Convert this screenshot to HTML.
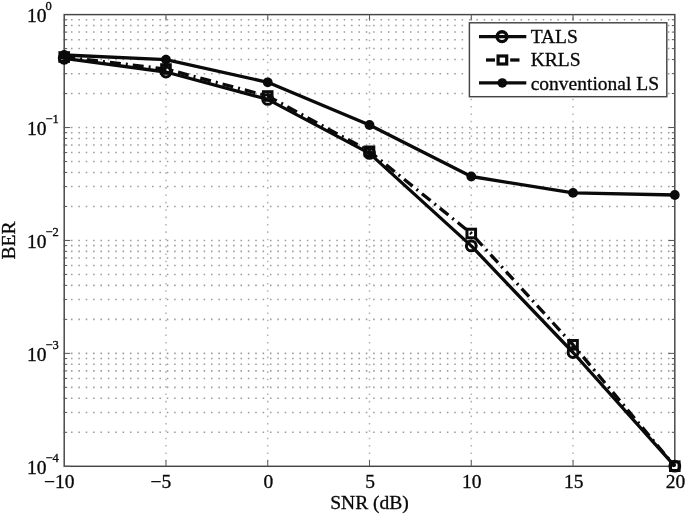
<!DOCTYPE html>
<html><head><meta charset="utf-8"><title>BER vs SNR</title>
<style>html,body{margin:0;padding:0;background:#fff}body{width:685px;height:514px;overflow:hidden}</style></head>
<body>
<svg width="685" height="514" viewBox="0 0 685 514" style="display:block;filter:blur(0.4px)">
<rect width="685" height="514" fill="#fff"/>
<g stroke="#9c9c9c" stroke-width="1.55" stroke-dasharray="1.55 5.82" fill="none"><line x1="63.60" y1="127.52" x2="674.8" y2="127.52"/><line x1="63.60" y1="93.53" x2="674.8" y2="93.53"/><line x1="63.60" y1="73.65" x2="674.8" y2="73.65"/><line x1="63.60" y1="59.54" x2="674.8" y2="59.54"/><line x1="63.60" y1="48.59" x2="674.8" y2="48.59"/><line x1="63.60" y1="39.65" x2="674.8" y2="39.65"/><line x1="63.60" y1="32.09" x2="674.8" y2="32.09"/><line x1="63.60" y1="25.54" x2="674.8" y2="25.54"/><line x1="63.60" y1="19.77" x2="674.8" y2="19.77"/><line x1="63.60" y1="240.45" x2="674.8" y2="240.45"/><line x1="63.60" y1="206.46" x2="674.8" y2="206.46"/><line x1="63.60" y1="186.57" x2="674.8" y2="186.57"/><line x1="63.60" y1="172.46" x2="674.8" y2="172.46"/><line x1="63.60" y1="161.52" x2="674.8" y2="161.52"/><line x1="63.60" y1="152.58" x2="674.8" y2="152.58"/><line x1="63.60" y1="145.02" x2="674.8" y2="145.02"/><line x1="63.60" y1="138.47" x2="674.8" y2="138.47"/><line x1="63.60" y1="132.69" x2="674.8" y2="132.69"/><line x1="63.60" y1="353.38" x2="674.8" y2="353.38"/><line x1="63.60" y1="319.38" x2="674.8" y2="319.38"/><line x1="63.60" y1="299.50" x2="674.8" y2="299.50"/><line x1="63.60" y1="285.39" x2="674.8" y2="285.39"/><line x1="63.60" y1="274.44" x2="674.8" y2="274.44"/><line x1="63.60" y1="265.50" x2="674.8" y2="265.50"/><line x1="63.60" y1="257.94" x2="674.8" y2="257.94"/><line x1="63.60" y1="251.39" x2="674.8" y2="251.39"/><line x1="63.60" y1="245.62" x2="674.8" y2="245.62"/><line x1="63.60" y1="432.31" x2="674.8" y2="432.31"/><line x1="63.60" y1="412.42" x2="674.8" y2="412.42"/><line x1="63.60" y1="398.31" x2="674.8" y2="398.31"/><line x1="63.60" y1="387.37" x2="674.8" y2="387.37"/><line x1="63.60" y1="378.43" x2="674.8" y2="378.43"/><line x1="63.60" y1="370.87" x2="674.8" y2="370.87"/><line x1="63.60" y1="364.32" x2="674.8" y2="364.32"/><line x1="63.60" y1="358.54" x2="674.8" y2="358.54"/></g>
<g stroke="#b4b4b4" stroke-width="1.55" stroke-dasharray="1.55 5.82" fill="none"><line x1="165.97" y1="17.6" x2="165.97" y2="466.3"/><line x1="267.73" y1="17.6" x2="267.73" y2="466.3"/><line x1="369.50" y1="17.6" x2="369.50" y2="466.3"/><line x1="471.27" y1="17.6" x2="471.27" y2="466.3"/><line x1="573.03" y1="17.6" x2="573.03" y2="466.3"/></g>
<rect x="64.2" y="14.6" width="610.60" height="451.70" fill="none" stroke="#444" stroke-width="1.45"/>
<g stroke="#5a5a5a" stroke-width="1.05"><line x1="165.97" y1="466.3" x2="165.97" y2="460.3"/><line x1="165.97" y1="14.6" x2="165.97" y2="20.6"/><line x1="267.73" y1="466.3" x2="267.73" y2="460.3"/><line x1="267.73" y1="14.6" x2="267.73" y2="20.6"/><line x1="369.50" y1="466.3" x2="369.50" y2="460.3"/><line x1="369.50" y1="14.6" x2="369.50" y2="20.6"/><line x1="471.27" y1="466.3" x2="471.27" y2="460.3"/><line x1="471.27" y1="14.6" x2="471.27" y2="20.6"/><line x1="573.03" y1="466.3" x2="573.03" y2="460.3"/><line x1="573.03" y1="14.6" x2="573.03" y2="20.6"/><line x1="64.2" y1="127.52" x2="70.2" y2="127.52"/><line x1="674.8" y1="127.52" x2="668.8" y2="127.52"/><line x1="64.2" y1="93.53" x2="67.2" y2="93.53"/><line x1="674.8" y1="93.53" x2="671.8" y2="93.53"/><line x1="64.2" y1="73.65" x2="67.2" y2="73.65"/><line x1="674.8" y1="73.65" x2="671.8" y2="73.65"/><line x1="64.2" y1="59.54" x2="67.2" y2="59.54"/><line x1="674.8" y1="59.54" x2="671.8" y2="59.54"/><line x1="64.2" y1="48.59" x2="67.2" y2="48.59"/><line x1="674.8" y1="48.59" x2="671.8" y2="48.59"/><line x1="64.2" y1="39.65" x2="67.2" y2="39.65"/><line x1="674.8" y1="39.65" x2="671.8" y2="39.65"/><line x1="64.2" y1="32.09" x2="67.2" y2="32.09"/><line x1="674.8" y1="32.09" x2="671.8" y2="32.09"/><line x1="64.2" y1="25.54" x2="67.2" y2="25.54"/><line x1="674.8" y1="25.54" x2="671.8" y2="25.54"/><line x1="64.2" y1="19.77" x2="67.2" y2="19.77"/><line x1="674.8" y1="19.77" x2="671.8" y2="19.77"/><line x1="64.2" y1="240.45" x2="70.2" y2="240.45"/><line x1="674.8" y1="240.45" x2="668.8" y2="240.45"/><line x1="64.2" y1="206.46" x2="67.2" y2="206.46"/><line x1="674.8" y1="206.46" x2="671.8" y2="206.46"/><line x1="64.2" y1="186.57" x2="67.2" y2="186.57"/><line x1="674.8" y1="186.57" x2="671.8" y2="186.57"/><line x1="64.2" y1="172.46" x2="67.2" y2="172.46"/><line x1="674.8" y1="172.46" x2="671.8" y2="172.46"/><line x1="64.2" y1="161.52" x2="67.2" y2="161.52"/><line x1="674.8" y1="161.52" x2="671.8" y2="161.52"/><line x1="64.2" y1="152.58" x2="67.2" y2="152.58"/><line x1="674.8" y1="152.58" x2="671.8" y2="152.58"/><line x1="64.2" y1="145.02" x2="67.2" y2="145.02"/><line x1="674.8" y1="145.02" x2="671.8" y2="145.02"/><line x1="64.2" y1="138.47" x2="67.2" y2="138.47"/><line x1="674.8" y1="138.47" x2="671.8" y2="138.47"/><line x1="64.2" y1="132.69" x2="67.2" y2="132.69"/><line x1="674.8" y1="132.69" x2="671.8" y2="132.69"/><line x1="64.2" y1="353.38" x2="70.2" y2="353.38"/><line x1="674.8" y1="353.38" x2="668.8" y2="353.38"/><line x1="64.2" y1="319.38" x2="67.2" y2="319.38"/><line x1="674.8" y1="319.38" x2="671.8" y2="319.38"/><line x1="64.2" y1="299.50" x2="67.2" y2="299.50"/><line x1="674.8" y1="299.50" x2="671.8" y2="299.50"/><line x1="64.2" y1="285.39" x2="67.2" y2="285.39"/><line x1="674.8" y1="285.39" x2="671.8" y2="285.39"/><line x1="64.2" y1="274.44" x2="67.2" y2="274.44"/><line x1="674.8" y1="274.44" x2="671.8" y2="274.44"/><line x1="64.2" y1="265.50" x2="67.2" y2="265.50"/><line x1="674.8" y1="265.50" x2="671.8" y2="265.50"/><line x1="64.2" y1="257.94" x2="67.2" y2="257.94"/><line x1="674.8" y1="257.94" x2="671.8" y2="257.94"/><line x1="64.2" y1="251.39" x2="67.2" y2="251.39"/><line x1="674.8" y1="251.39" x2="671.8" y2="251.39"/><line x1="64.2" y1="245.62" x2="67.2" y2="245.62"/><line x1="674.8" y1="245.62" x2="671.8" y2="245.62"/><line x1="64.2" y1="466.30" x2="70.2" y2="466.30"/><line x1="674.8" y1="466.30" x2="668.8" y2="466.30"/><line x1="64.2" y1="432.31" x2="67.2" y2="432.31"/><line x1="674.8" y1="432.31" x2="671.8" y2="432.31"/><line x1="64.2" y1="412.42" x2="67.2" y2="412.42"/><line x1="674.8" y1="412.42" x2="671.8" y2="412.42"/><line x1="64.2" y1="398.31" x2="67.2" y2="398.31"/><line x1="674.8" y1="398.31" x2="671.8" y2="398.31"/><line x1="64.2" y1="387.37" x2="67.2" y2="387.37"/><line x1="674.8" y1="387.37" x2="671.8" y2="387.37"/><line x1="64.2" y1="378.43" x2="67.2" y2="378.43"/><line x1="674.8" y1="378.43" x2="671.8" y2="378.43"/><line x1="64.2" y1="370.87" x2="67.2" y2="370.87"/><line x1="674.8" y1="370.87" x2="671.8" y2="370.87"/><line x1="64.2" y1="364.32" x2="67.2" y2="364.32"/><line x1="674.8" y1="364.32" x2="671.8" y2="364.32"/><line x1="64.2" y1="358.54" x2="67.2" y2="358.54"/><line x1="674.8" y1="358.54" x2="671.8" y2="358.54"/></g>
<polyline points="64.20,55.00 165.97,59.60 267.73,82.30 369.50,125.00 471.27,176.50 573.03,192.90 674.80,195.00" fill="none" stroke="#0a0a0a" stroke-width="3.3" stroke-linejoin="round"/>
<circle cx="64.20" cy="55.00" r="4.9" fill="#0a0a0a"/>
<circle cx="165.97" cy="59.60" r="4.9" fill="#0a0a0a"/>
<circle cx="267.73" cy="82.30" r="4.9" fill="#0a0a0a"/>
<circle cx="369.50" cy="125.00" r="4.9" fill="#0a0a0a"/>
<circle cx="471.27" cy="176.50" r="4.9" fill="#0a0a0a"/>
<circle cx="573.03" cy="192.90" r="4.9" fill="#0a0a0a"/>
<circle cx="674.80" cy="195.00" r="4.9" fill="#0a0a0a"/>
<polyline points="64.20,57.00 165.97,69.00 267.73,96.00 369.50,151.30 471.27,233.50 573.03,344.80 674.80,466.20" fill="none" stroke="#0a0a0a" stroke-width="3.3" stroke-dasharray="11 5 2 5"/>
<rect x="59.90" y="52.70" width="8.6" height="8.6" fill="none" stroke="#0a0a0a" stroke-width="3"/>
<rect x="161.67" y="64.70" width="8.6" height="8.6" fill="none" stroke="#0a0a0a" stroke-width="3"/>
<rect x="263.43" y="91.70" width="8.6" height="8.6" fill="none" stroke="#0a0a0a" stroke-width="3"/>
<rect x="365.20" y="147.00" width="8.6" height="8.6" fill="none" stroke="#0a0a0a" stroke-width="3"/>
<rect x="466.97" y="229.20" width="8.6" height="8.6" fill="none" stroke="#0a0a0a" stroke-width="3"/>
<rect x="568.73" y="340.50" width="8.6" height="8.6" fill="none" stroke="#0a0a0a" stroke-width="3"/>
<rect x="670.50" y="461.90" width="8.6" height="8.6" fill="none" stroke="#0a0a0a" stroke-width="3"/>
<polyline points="64.20,58.30 165.97,72.00 267.73,99.40 369.50,153.40 471.27,245.90 573.03,352.50 674.80,466.20" fill="none" stroke="#0a0a0a" stroke-width="3.3" stroke-linejoin="round"/>
<circle cx="64.20" cy="58.30" r="4.9" fill="none" stroke="#0a0a0a" stroke-width="3"/>
<circle cx="165.97" cy="72.00" r="4.9" fill="none" stroke="#0a0a0a" stroke-width="3"/>
<circle cx="267.73" cy="99.40" r="4.9" fill="none" stroke="#0a0a0a" stroke-width="3"/>
<circle cx="369.50" cy="153.40" r="4.9" fill="none" stroke="#0a0a0a" stroke-width="3"/>
<circle cx="471.27" cy="245.90" r="4.9" fill="none" stroke="#0a0a0a" stroke-width="3"/>
<circle cx="573.03" cy="352.50" r="4.9" fill="none" stroke="#0a0a0a" stroke-width="3"/>
<circle cx="674.80" cy="466.20" r="4.9" fill="none" stroke="#0a0a0a" stroke-width="3"/>
<rect x="469.4" y="22.8" width="197.40" height="73.90" fill="#fff" stroke="#444" stroke-width="1.45"/>
<line x1="479" y1="36.7" x2="526.3" y2="36.7" stroke="#0a0a0a" stroke-width="3.3"/>
<circle cx="502" cy="36.7" r="4.9" fill="none" stroke="#0a0a0a" stroke-width="3.4"/>
<line x1="486" y1="60.0" x2="495" y2="60.0" stroke="#0a0a0a" stroke-width="3.3"/>
<line x1="510.2" y1="60.0" x2="519.5" y2="60.0" stroke="#0a0a0a" stroke-width="3.3"/>
<rect x="498.10" y="56.0" width="8.6" height="8.0" fill="none" stroke="#0a0a0a" stroke-width="3.2"/>
<line x1="479" y1="82.9" x2="526.3" y2="82.9" stroke="#0a0a0a" stroke-width="3.3"/>
<circle cx="502.3" cy="82.9" r="4.75" fill="#0a0a0a"/>
<g font-family="'Liberation Serif', serif" fill="#080808" stroke="#080808" stroke-width="0.32">
<text x="530.7" y="43.3" font-size="19.5">TALS</text>
<text x="530.7" y="66.3" font-size="19.5">KRLS</text>
<text x="530.7" y="90.2" font-size="19.5">conventional LS</text>
<text x="43.95" y="488.4" font-size="19.5">−10</text>
<text x="150.59" y="488.4" font-size="19.5">−5</text>
<text x="268.33" y="488.4" font-size="19.5" text-anchor="middle">0</text>
<text x="370.10" y="488.4" font-size="19.5" text-anchor="middle">5</text>
<text x="471.87" y="488.4" font-size="19.5" text-anchor="middle">10</text>
<text x="573.63" y="488.4" font-size="19.5" text-anchor="middle">15</text>
<text x="675.40" y="488.4" font-size="19.5" text-anchor="middle">20</text>
<text x="369.50" y="509.2" font-size="19.5" text-anchor="middle">SNR (dB)</text>
<text x="26.9" y="21.80" font-size="19.5">10</text>
<text x="45.5" y="10.00" font-size="12.5">0</text>
<text x="26.9" y="134.72" font-size="19.5">10</text>
<text x="45.5" y="122.92" font-size="12.5">−1</text>
<text x="26.9" y="247.65" font-size="19.5">10</text>
<text x="45.5" y="235.85" font-size="12.5">−2</text>
<text x="26.9" y="360.57" font-size="19.5">10</text>
<text x="45.5" y="348.77" font-size="12.5">−3</text>
<text x="26.9" y="473.50" font-size="19.5">10</text>
<text x="45.5" y="461.70" font-size="12.5">−4</text>
<text transform="translate(14.6,240.45) rotate(-90)" font-size="19.5" text-anchor="middle">BER</text>
</g>
</svg>
</body></html>
